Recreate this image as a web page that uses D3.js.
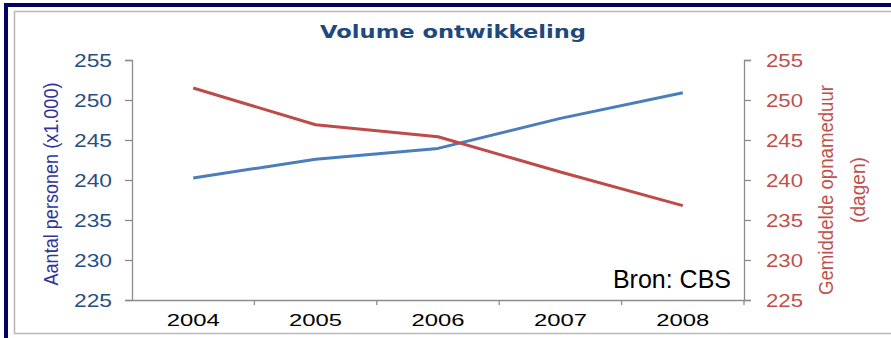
<!DOCTYPE html>
<html>
<head>
<meta charset="utf-8">
<script src="https://cdn.jsdelivr.net/npm/d3@7"></script>
<style>
  html, body { margin: 0; padding: 0; background: #fff; }
  svg { display: block; }
</style>
</head>
<body>
<svg id="chart" width="891" height="338"></svg>
<script>
// Jaren op de x-as
const years = ["2004", "2005", "2006", "2007", "2008"];
// Aantal personen (x1.000) — linker as
const personen = [240.25, 242.6, 243.95, 247.7, 250.9];
// Gemiddelde opnameduur in dagen — rechter as
const opnameduur = [251.5, 246.9, 245.4, 241.0, 236.8];
// As-ticks (beide assen)
const yTicks = [225, 230, 235, 240, 245, 250, 255];

const svg = d3.select("#chart");
const W = 891, H = 338;

// Kader
svg.append("rect").attr("x", 0).attr("y", 0).attr("width", W).attr("height", H).attr("fill", "#fff");
svg.append("rect").attr("x", 6).attr("y", 5).attr("width", W + 10).attr("height", H + 10)
  .attr("fill", "none").attr("stroke", "#000066").attr("stroke-width", 4);
svg.append("rect").attr("x", 14.5).attr("y", 11.5).attr("width", W).attr("height", 322)
  .attr("fill", "none").attr("stroke", "#b8b8b8").attr("stroke-width", 1.5);

const m = { left: 132, right: 744, top: 60, bottom: 300 };

const x = d3.scaleBand().domain(years).range([m.left, m.right]).padding(0);
const yL = d3.scaleLinear().domain([225, 255]).range([m.bottom, m.top]);
const yR = d3.scaleLinear().domain([225, 255]).range([m.bottom, m.top]);

const axisColor = "#8c8c8c";

// Linker as
const gL = svg.append("g").attr("transform", `translate(${m.left},0)`)
  .call(d3.axisLeft(yL).tickValues(yTicks).tickSizeOuter(0).tickSize(7).tickPadding(13));
gL.select(".domain").attr("stroke", axisColor).attr("stroke-width", 1.3);
gL.selectAll(".tick line").attr("stroke", axisColor).attr("stroke-width", 1.3);
gL.selectAll(".tick text").attr("fill", "#2a4f86")
  .style("font-family", "'Liberation Sans', Arial, sans-serif").style("font-size", "18px")
  .attr("textLength", 38).attr("lengthAdjust", "spacingAndGlyphs").attr("dy", "0.36em");

// Rechter as
const gR = svg.append("g").attr("transform", `translate(${m.right},0)`)
  .call(d3.axisRight(yR).tickValues(yTicks).tickSizeOuter(0).tickSize(7).tickPadding(15));
gR.select(".domain").attr("stroke", axisColor).attr("stroke-width", 1.3);
gR.selectAll(".tick line").attr("stroke", axisColor).attr("stroke-width", 1.3);
gR.selectAll(".tick text").attr("fill", "#c0504d")
  .style("font-family", "'Liberation Sans', Arial, sans-serif").style("font-size", "18px")
  .attr("textLength", 37).attr("lengthAdjust", "spacingAndGlyphs").attr("dy", "0.36em");

// X-as met ticks op de grenzen van de categorieën
const gX = svg.append("g").attr("transform", `translate(0,${m.bottom})`)
  .call(d3.axisBottom(x).tickSize(0).tickPadding(14));
gX.select(".domain").attr("stroke", axisColor).attr("stroke-width", 1.3);
gX.selectAll(".tick text").attr("fill", "#000")
  .style("font-family", "'Liberation Sans', Arial, sans-serif").style("font-size", "17px")
  .attr("textLength", 53).attr("lengthAdjust", "spacingAndGlyphs").attr("dy", "0.71em");
gX.selectAll(".bound").data(years.slice(1).concat(["end"])).join("line")
  .attr("class", "bound")
  .attr("x1", (d, i) => m.left + x.bandwidth() * (i + 1))
  .attr("x2", (d, i) => m.left + x.bandwidth() * (i + 1))
  .attr("y1", 0).attr("y2", 5)
  .attr("stroke", axisColor).attr("stroke-width", 1.3);

// Lijnen
const cx = d => x(d) + x.bandwidth() / 2;
const lineL = d3.line().x((d, i) => cx(years[i])).y(d => yL(d));
const lineR = d3.line().x((d, i) => cx(years[i])).y(d => yR(d));

svg.append("path").datum(personen).attr("d", lineL)
  .attr("fill", "none").attr("stroke", "#4a7ebb").attr("stroke-width", 3)
  .attr("stroke-linejoin", "round");
svg.append("path").datum(opnameduur).attr("d", lineR)
  .attr("fill", "none").attr("stroke", "#be4b48").attr("stroke-width", 3)
  .attr("stroke-linejoin", "round");

// Titel
svg.append("text").attr("x", 453).attr("y", 38).attr("text-anchor", "middle")
  .attr("fill", "#1f497d")
  .style("font-family", "'DejaVu Sans', Verdana, sans-serif").style("font-weight", "bold")
  .style("font-size", "17.5px")
  .attr("textLength", 266).attr("lengthAdjust", "spacingAndGlyphs")
  .text("Volume ontwikkeling");

// As-titels
svg.append("text")
  .attr("transform", "translate(58,184) rotate(-90)")
  .attr("text-anchor", "middle").attr("fill", "#33339a")
  .style("font-family", "'Liberation Sans', Arial, sans-serif").style("font-size", "21px")
  .attr("textLength", 203).attr("lengthAdjust", "spacingAndGlyphs")
  .text("Aantal personen (x1.000)");

svg.append("text")
  .attr("transform", "translate(833,190) rotate(-90)")
  .attr("text-anchor", "middle").attr("fill", "#c0504d")
  .style("font-family", "'Liberation Sans', Arial, sans-serif").style("font-size", "21px")
  .attr("textLength", 210).attr("lengthAdjust", "spacingAndGlyphs")
  .text("Gemiddelde opnameduur");
svg.append("text")
  .attr("transform", "translate(865,190) rotate(-90)")
  .attr("text-anchor", "middle").attr("fill", "#c0504d")
  .style("font-family", "'Liberation Sans', Arial, sans-serif").style("font-size", "21px")
  .attr("textLength", 66).attr("lengthAdjust", "spacingAndGlyphs")
  .text("(dagen)");

// Bron
svg.append("text").attr("x", 731).attr("y", 288).attr("text-anchor", "end")
  .attr("fill", "#000")
  .style("font-family", "'Liberation Sans', Arial, sans-serif").style("font-size", "25px")
  .text("Bron: CBS");
</script>
</body>
</html>
